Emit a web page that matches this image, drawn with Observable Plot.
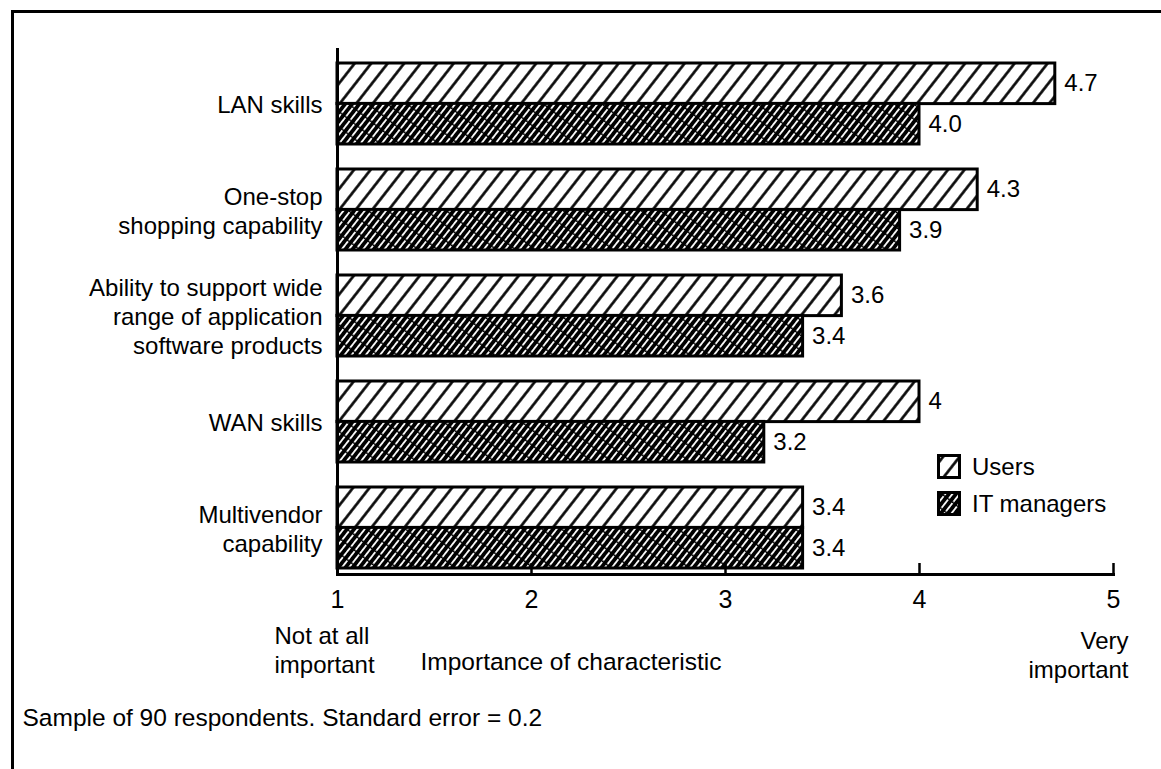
<!DOCTYPE html>
<html>
<head>
<meta charset="utf-8">
<script src="https://cdn.jsdelivr.net/npm/d3@7"></script>
<script src="https://cdn.jsdelivr.net/npm/@observablehq/plot@0.6"></script>
<style>
  html, body { margin: 0; padding: 0; background: #fff; overflow: hidden; }
  #wrap { position: relative; width: 1161px; height: 769px; font-family: "Liberation Sans", Arial, Helvetica, sans-serif; color: #000; }
  #border { position: absolute; left: 11px; top: 10px; width: 1200px; height: 800px; border-left: 3px solid #000; border-top: 3px solid #000; }
  #chart { position: absolute; left: 0; top: 0; }
  .legend { position: absolute; left: 937px; font-size: 24px; }
  .legend .row { display: flex; align-items: center; height: 37px; }
  .legend svg { margin-right: 11px; }
</style>
</head>
<body>
<div id="wrap">
  <div id="border"></div>
  <div id="chart"></div>
  <div class="legend" id="legend" style="top:448px"></div>
</div>
<script>
// ---- data ----
const categories = [
  "LAN skills",
  "One-stop\nshopping capability",
  "Ability to support wide\nrange of application\nsoftware products",
  "WAN skills",
  "Multivendor\ncapability"
];
const seriesNames = ["Users", "IT managers"];
const usersValues = [4.7, 4.3, 3.6, 4.0, 3.4];
const itValues    = [4.0, 3.9, 3.4, 3.2, 3.4];
const usersLabels = ["4.7", "4.3", "3.6", "4", "3.4"];
const itLabels    = ["4.0", "3.9", "3.4", "3.2", "3.4"];
const xTicks = [1, 2, 3, 4, 5];
const xDomain = [1, 5];
const axisTitle = "Importance of characteristic";
const lowLabel = "Not at all\nimportant";
const highLabel = "Very\nimportant";
const caption = "Sample of 90 respondents. Standard error = 0.2";

const usersRows = categories.map((c, i) => ({category: c, value: usersValues[i], label: usersLabels[i]}));
const itRows = categories.map((c, i) => ({category: c, value: itValues[i], label: itLabels[i]}));

// ---- layout ----
const W = 1161, H = 769;
const yRange = [62, 568];
const padInner = 0.24;
const step = (yRange[1] - yRange[0]) / (categories.length - padInner);
const bw = step * (1 - padInner);
const half = bw / 2;
const FS = 24;
const font = "Liberation Sans, Arial, Helvetica, sans-serif";

const chart = Plot.plot({
  width: W,
  height: H,
  marginLeft: 337,
  marginRight: 48,
  marginTop: 48,
  marginBottom: H - 574,
  style: {fontFamily: font, fontSize: FS + "px", color: "#000", background: "transparent", overflow: "visible"},
  x: {domain: xDomain, axis: null, label: null},
  y: {domain: categories, range: yRange, paddingInner: padInner, paddingOuter: 0, axis: null, label: null},
  marks: [
    Plot.barX(usersRows, {x1: 1, x2: "value", y: "category", insetBottom: half, fill: "url(#hatchUsers)", stroke: "#000", strokeWidth: 3}),
    Plot.barX(itRows, {x1: 1, x2: "value", y: "category", insetTop: half, fill: "url(#hatchIT)", stroke: "#000", strokeWidth: 3}),
    Plot.ruleX([xDomain[0]], {stroke: "#000", strokeWidth: 3}),
    Plot.frame({anchor: "bottom", stroke: "#000", strokeWidth: 3}),
    Plot.axisX(xTicks, {tickSize: -11, tickFormat: () => "", strokeWidth: 2.5, label: null}),
    Plot.axisX(xTicks, {tickSize: 0, tickPadding: 16, fontSize: 25, tickFormat: d => String(d), label: null}),
    Plot.text(categories, {y: d => d, frameAnchor: "left", textAnchor: "end", lineAnchor: "middle", dx: -15, lineHeight: 1.21, fontSize: FS, fill: "#000"}),
    Plot.text(usersRows, {x: "value", y: "category", text: "label", textAnchor: "start", dx: 9, dy: -half / 2, fontSize: FS, fill: "#000"}),
    Plot.text(itRows, {x: "value", y: "category", text: "label", textAnchor: "start", dx: 9, dy: half / 2, fontSize: FS, fill: "#000"}),
    Plot.text([lowLabel], {x: xDomain[0], frameAnchor: "bottom", textAnchor: "start", lineAnchor: "middle", dx: -63, dy: 74.5, lineHeight: 1.21, fontSize: FS, fill: "#000"}),
    Plot.text([highLabel], {x: xDomain[1], frameAnchor: "bottom", textAnchor: "end", lineAnchor: "middle", dx: 15, dy: 80, lineHeight: 1.17, fontSize: FS, fill: "#000"}),
    Plot.text([axisTitle], {frameAnchor: "bottom-left", textAnchor: "start", lineAnchor: "middle", dx: 83, dy: 88, fontSize: 24.5, fill: "#000"}),
    Plot.text([caption], {frameAnchor: "bottom-left", textAnchor: "start", lineAnchor: "middle", dx: 22 - 337, dy: 144, fontSize: 24.5, fill: "#000"})
  ]
});

// hatch patterns
const defs = d3.select(chart).insert("defs", ":first-child");
const pu = defs.append("pattern").attr("id", "hatchUsers").attr("patternUnits", "userSpaceOnUse")
  .attr("width", 13).attr("height", 13).attr("patternTransform", "rotate(38)");
pu.append("rect").attr("width", 13).attr("height", 13).attr("fill", "#fff");
pu.append("line").attr("x1", 6.5).attr("x2", 6.5).attr("y1", -1).attr("y2", 14).attr("stroke", "#000").attr("stroke-width", 2.6);
const pi = defs.append("pattern").attr("id", "hatchIT").attr("patternUnits", "userSpaceOnUse")
  .attr("width", 5.6).attr("height", 12).attr("patternTransform", "rotate(38)");
pi.append("rect").attr("width", 5.6).attr("height", 12).attr("fill", "#000");
pi.append("line").attr("x1", 2.8).attr("x2", 2.8).attr("y1", 0).attr("y2", 12).attr("stroke", "#fff").attr("stroke-width", 1.8).attr("stroke-dasharray", "10.5 1.5");

document.getElementById("chart").appendChild(chart);

// legend
const legend = d3.select("#legend");
const fills = ["url(#hatchUsers)", "url(#hatchIT)"];
seriesNames.forEach((s, i) => {
  const row = legend.append("div").attr("class", "row");
  const sw = row.append("svg").attr("width", 24).attr("height", 25);
  sw.append("rect").attr("x", 1.5).attr("y", 1.5).attr("width", 21).attr("height", 22).attr("fill", fills[i]).attr("stroke", "#000").attr("stroke-width", 3);
  row.append("span").text(s);
});
</script>
</body>
</html>
